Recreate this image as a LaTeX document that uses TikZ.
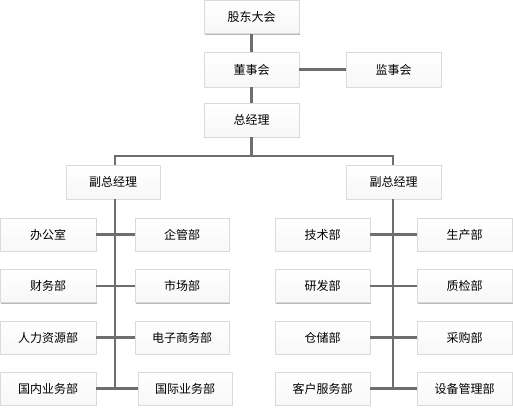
\documentclass[tikz,border=0pt]{standalone}
\usepackage{fontspec}
\newfontfamily\cjk{Noto Sans CJK SC}
\definecolor{lnc}{HTML}{6E6E6E}
\definecolor{bdc}{HTML}{DADADA}
\definecolor{shc}{HTML}{B8B8B8}
\tikzset{
  orgbox/.style={draw=bdc, line width=0.8pt, top color=white, bottom color=gray!6,
    minimum width=95pt, minimum height=33pt, inner sep=0pt, font=\cjk\fontsize{12}{14}\selectfont,
    preaction={fill=shc, transform canvas={xshift=1.2pt,yshift=-1.2pt}}},
  conn/.style={draw=lnc, line width=2.6pt}
}
\begin{document}
\begin{tikzpicture}[x=1pt,y=-1pt]
\useasboundingbox (0,0) rectangle (513,407);
\coordinate (hl) at (115,156);
\coordinate (hr) at (393,156);
\node[orgbox] (gd) at (251.5,17) {股东大会};
\node[orgbox, minimum height=35pt] (dsh) at (251.5,69.5) {董事会};
\node[orgbox, minimum height=35pt] (jsh) at (393.5,69.5) {监事会};
\node[orgbox, minimum height=34pt] (zjl) at (251.5,120) {总经理};
\node[orgbox, minimum height=34pt, minimum width=94pt] (fa) at (113,182) {副总经理};
\node[orgbox, minimum height=34pt] (fb) at (393.5,182) {副总经理};
% left group
\node[orgbox, minimum width=96pt] (a1) at (48,234.5) {办公室};
\node[orgbox, minimum width=96pt] (a2) at (48,286) {财务部};
\node[orgbox, minimum width=96pt] (a3) at (48,337.5) {人力资源部};
\node[orgbox, minimum width=96pt] (a4) at (48,388.5) {国内业务部};
\node[orgbox, minimum width=94pt] (b1) at (182,234.5) {企管部};
\node[orgbox, minimum width=94pt] (b2) at (182,286) {市场部};
\node[orgbox, minimum width=94pt] (b3) at (182,337.5) {电子商务部};
\node[orgbox, minimum width=94pt] (b4) at (185,388.5) {国际业务部};
% right group
\node[orgbox] (c1) at (322.5,234.5) {技术部};
\node[orgbox] (c2) at (322.5,286) {研发部};
\node[orgbox] (c3) at (322.5,337.5) {仓储部};
\node[orgbox] (c4) at (322.5,388.5) {客户服务部};
\node[orgbox] (d1) at (464.5,234.5) {生产部};
\node[orgbox] (d2) at (464.5,286) {质检部};
\node[orgbox] (d3) at (464.5,337.5) {采购部};
\node[orgbox] (d4) at (464.5,388.5) {设备管理部};
\coordinate (ta) at (115,388.5);
\coordinate (tb) at (393,388.5);
\draw[conn] (gd.south) -- (dsh.north);
\draw[conn] (dsh.south) -- (zjl.north);
\draw[conn] (dsh.east) -- (jsh.west);
\draw[conn] (zjl.south) -- (zjl.south |- hl) -- (hl) -- (fa.north -| hl);
\draw[conn] (zjl.south |- hl) -- (hr) -- (fb.north -| hr);
\draw[conn] (fa.south -| hl) -- (ta);
\draw[conn] (fb.south -| hr) -- (tb);
\foreach \i in {1,2,3,4}{
  \draw[conn] (a\i.east) -- (b\i.west);
  \draw[conn] (c\i.east) -- (d\i.west);
}
\end{tikzpicture}
\end{document}
